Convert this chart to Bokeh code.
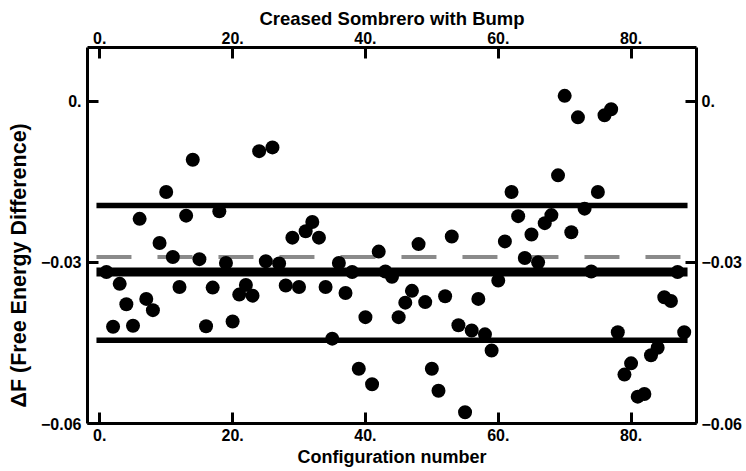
from bokeh.plotting import figure
from bokeh.models import Range1d, LinearAxis, FixedTicker, CustomJSTickFormatter
from bokeh.embed import file_html
from bokeh.resources import INLINE

# ---- data ----
config = list(range(1, 89))
delta_f = [-0.0318, -0.0420, -0.0340, -0.0378, -0.0418, -0.0219, -0.0368, -0.0389, -0.0264, -0.0169,
           -0.0290, -0.0346, -0.0213, -0.0109, -0.0294, -0.0419, -0.0347, -0.0205, -0.0301, -0.0410,
           -0.0360, -0.0342, -0.0362, -0.0093, -0.0298, -0.0086, -0.0302, -0.0343, -0.0254, -0.0346,
           -0.0242, -0.0225, -0.0254, -0.0346, -0.0442, -0.0301, -0.0357, -0.0318, -0.0498, -0.0402,
           -0.0527, -0.0280, -0.0317, -0.0327, -0.0402, -0.0375, -0.0353, -0.0266, -0.0374, -0.0498,
           -0.0539, -0.0363, -0.0252, -0.0417, -0.0579, -0.0427, -0.0368, -0.0434, -0.0464, -0.0334,
           -0.0261, -0.0169, -0.0214, -0.0292, -0.0248, -0.0300, -0.0227, -0.0212, -0.0138, 0.0010,
           -0.0244, -0.0030, -0.0200, -0.0317, -0.0169, -0.0026, -0.0015, -0.0430, -0.0509, -0.0488,
           -0.0550, -0.0545, -0.0473, -0.0459, -0.0365, -0.0372, -0.0318, -0.0430]

line_x = [-0.5, 88.5]
mean_level = -0.0318
upper_level = -0.0194
lower_level = -0.0445
dashed_level = -0.0290

x_ticks = [0, 20, 40, 60, 80]
y_ticks = [-0.06, -0.03, 0.0]

title_text = "Creased Sombrero with Bump"
x_label = "Configuration number"
y_label = "\u0394F (Free Energy Difference)" + "\u00a0" * 10

FONT = "Liberation Sans"

p = figure(width=746, height=471, output_backend="svg", toolbar_location=None,
           x_range=Range1d(-1.85, 89.85), y_range=Range1d(-0.06, 0.01),
           x_axis_type=None, y_axis_type=None,
           min_border_left=87, min_border_right=50, min_border_top=47, min_border_bottom=48)
p.outline_line_color = None
p.background_fill_color = "white"
p.border_fill_color = "white"

xfmt = CustomJSTickFormatter(code="return tick.toFixed(0) + '.';")
yfmt = CustomJSTickFormatter(code="if (Math.abs(tick) < 1e-12) return '0.'; return '\\u2212' + Math.abs(tick).toFixed(2);")


def style(ax, fmt, ticks):
    ax.ticker = FixedTicker(ticks=ticks, minor_ticks=[])
    ax.formatter = fmt
    ax.axis_line_width = 3
    ax.axis_line_color = "black"
    ax.major_tick_line_width = 3
    ax.major_tick_in = 11
    ax.major_tick_out = 0
    ax.minor_tick_in = 0
    ax.minor_tick_out = 0
    ax.major_label_text_font = FONT
    ax.major_label_text_font_style = "bold"
    ax.major_label_text_font_size = "16px"
    ax.major_label_text_color = "black"
    ax.major_label_standoff = 5
    ax.axis_label_text_font = FONT
    ax.axis_label_text_font_style = "bold"
    ax.axis_label_text_font_size = "18px"
    ax.axis_label_text_color = "black"
    ax.axis_label_standoff = 3


bottom = LinearAxis(axis_label=x_label)
style(bottom, xfmt, x_ticks)
top = LinearAxis(axis_label=title_text)
style(top, xfmt, x_ticks)
top.axis_label_text_font_size = "18.5px"
top.major_label_standoff = 4
top.axis_label_standoff = 0
left = LinearAxis(axis_label=y_label)
style(left, yfmt, y_ticks)
left.axis_label_text_font_size = "21.5px"
left.axis_label_standoff = 7
left.major_label_standoff = 6
right = LinearAxis()
style(right, yfmt, y_ticks)
right.major_label_standoff = 5

p.add_layout(bottom, "below")
p.add_layout(top, "above")
p.add_layout(left, "left")
p.add_layout(right, "right")

# reference lines
p.line(line_x, [dashed_level, dashed_level], line_color="#8a8a8a", line_width=4, line_dash="35 26")
p.line(line_x, [upper_level, upper_level], line_color="black", line_width=5.5)
p.line(line_x, [mean_level, mean_level], line_color="black", line_width=9)
p.line(line_x, [lower_level, lower_level], line_color="black", line_width=5.5)

# points
p.scatter(config, delta_f, marker="circle", size=14, fill_color="black", line_color="black", line_width=0)

open("out.html", "w").write(file_html(p, INLINE))
